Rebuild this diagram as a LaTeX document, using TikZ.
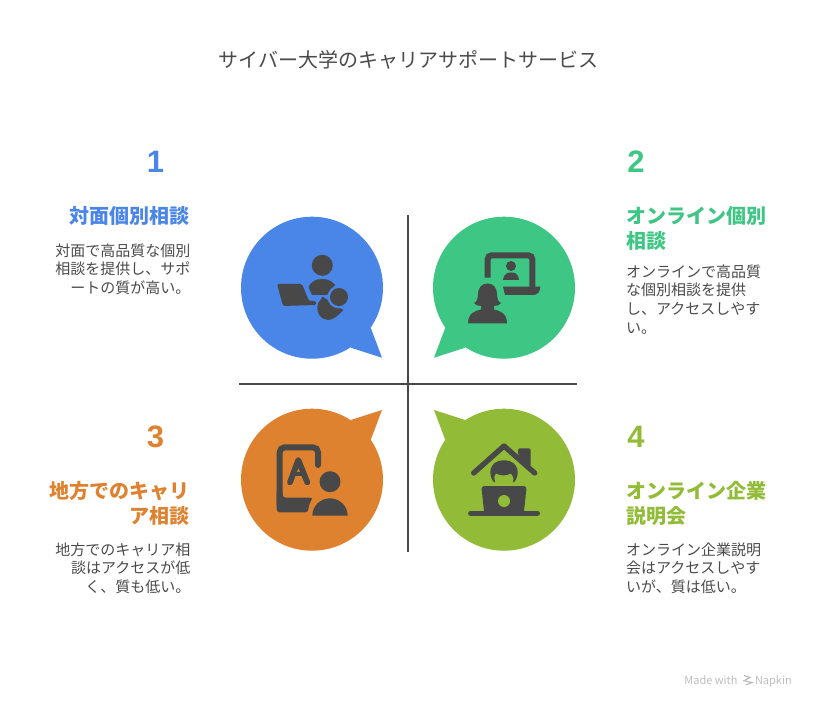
\documentclass[tikz,border=0pt]{standalone}
\usepackage{fontspec}
\setmainfont{Noto Sans CJK JP}
\newfontfamily\digitfont{Liberation Sans}
\definecolor{blueA}{HTML}{4A86E8}
\definecolor{greenA}{HTML}{3EC684}
\definecolor{orangeA}{HTML}{DF8230}
\definecolor{oliveA}{HTML}{92BC38}
\definecolor{darkA}{HTML}{484848}
\definecolor{bodyA}{HTML}{4A4A4A}
\definecolor{markA}{HTML}{BDBDBD}
\tikzset{
    bubble/.style={circle, minimum size=142pt, inner sep=0pt},
    numlabel/.style={font=\fontsize{31}{31}\selectfont\bfseries\digitfont},
    headleft/.style={font=\fontsize{20}{25}\selectfont\bfseries, align=right, anchor=north east, inner sep=0pt},
    headright/.style={font=\fontsize{20}{25}\selectfont\bfseries, align=left, anchor=north west, inner sep=0pt},
    textleft/.style={font=\fontsize{15}{18.6}\selectfont, text=bodyA, align=right, anchor=north east, inner sep=0pt},
    textright/.style={font=\fontsize{15}{18.6}\selectfont, text=bodyA, align=left, anchor=north west, inner sep=0pt},
    icon/.style={fill=darkA, draw=none}
}
\begin{document}
\begin{tikzpicture}[x=1pt,y=-1pt]
    \useasboundingbox (0,0) rectangle (816,708);
    % Title
    \node[text=bodyA, font=\fontsize{20}{24}\selectfont] (title) at (408.5,60) {サイバー大学のキャリアサポートサービス};

    % Cross lines
    \coordinate (vtop) at (408,215);
    \coordinate (vbot) at (408,552);
    \coordinate (hleft) at (239,384);
    \coordinate (hright) at (577,384);
    \draw[darkA, line width=1.8pt] (vtop) -- (vbot);
    \draw[darkA, line width=1.8pt] (hleft) -- (hright);

    % Speech bubbles
    \fill[blueA] (370.7,327.7) -- (382,357.7) -- (350.7,347.7) -- cycle;
    \fill[greenA] (445.3,327.7) -- (434,357.7) -- (465.3,347.7) -- cycle;
    \fill[orangeA] (370.7,440) -- (382,410) -- (350.7,420) -- cycle;
    \fill[oliveA] (445.3,440) -- (434,410) -- (465.3,420) -- cycle;
    \node[bubble, fill=blueA] (b1) at (312,287.7) {};
    \node[bubble, fill=greenA] (b2) at (504,287.7) {};
    \node[bubble, fill=orangeA] (b3) at (312,479.7) {};
    \node[bubble, fill=oliveA] (b4) at (504,479.7) {};

    % Icon 1: person and laptop
    \fill[icon] (322.3,265.3) circle (10.5);
    \fill[icon] (308.5,287) .. controls (311,281) and (317,279) .. (322,279) .. controls (328,279) and (332,281) .. (335,285) -- (327,295) -- (312,295) -- cycle;
    \fill[icon, rounded corners=1.5pt] (277,284) -- (302,284) -- (309,301) -- (316,301) -- (316,305) -- (283,306) -- cycle;
    \fill[icon] (322.7,296.7) -- (343.3,310) .. controls (338,316) and (333,320) .. (328,320) .. controls (321,320) and (315,312) .. (318.3,303) -- cycle;
    \fill[blueA] (339,297) circle (11.5);
    \fill[icon] (339,297) circle (9);

    % Icon 2: woman and screen
    \draw[darkA, line width=6pt, rounded corners=4pt] (487.7,277.7) -- (487.7,255.3) -- (532.3,255.3) -- (532.3,288);
    \fill[icon] (503,286.7) -- (540.3,286.7) .. controls (540.3,292) and (537,295) .. (533,295) -- (505,295) -- cycle;
    \fill[icon] (511,266) circle (5);
    \fill[icon] (503,280) .. controls (504,272) and (510,272.5) .. (511,272.5) .. controls (513,272.5) and (518,272) .. (519,280) -- cycle;
    \fill[icon] (474,303) .. controls (477,302) and (478,298) .. (478,295) .. controls (478,287) and (482,283.5) .. (487.5,283.5) .. controls (493,283.5) and (497,287) .. (497,295) .. controls (497,298) and (498,302) .. (501,303) .. controls (500,305) and (497,306) .. (494,306) -- (494,309.5) .. controls (500,311) and (507,313) .. (507,323.5) -- (468,323.5) .. controls (468,313) and (475,311) .. (481,309.5) -- (481,306) .. controls (478,306) and (475,305) .. (474,303) -- cycle;

    % Icon 3: document and person
    \draw[darkA, line width=6pt, line cap=round, rounded corners=5pt] (318,465) -- (318,447.3) -- (279.7,447.3) -- (279.7,505);
    \fill[icon, rounded corners=3pt] (276.7,490) -- (282.7,490) -- (282.7,497.7) -- (313.3,497.7) .. controls (310,502) and (308.5,507) .. (308.3,512.3) -- (276.7,512.3) -- cycle;
    \draw[darkA, line width=5.8pt, line cap=round, line join=round] (290,482.3) -- (298.3,460) -- (307.3,482.3);
    \draw[darkA, line width=4.5pt] (293,474) -- (304,474);
    \fill[icon] (330,481.7) circle (10.5);
    \fill[icon] (312.3,515.7) arc[start angle=180, end angle=360, x radius=17.7, y radius=17.4] -- cycle;

    % Icon 4: house and laptop
    \draw[darkA, line width=5.3pt, line cap=round, line join=round] (473.7,473) -- (504,446) -- (534.7,473);
    \fill[icon, rounded corners=1.5pt] (518,448.3) -- (530.7,448.3) -- (530.7,467) -- (518,455) -- cycle;
    \fill[icon] (494,482.3) .. controls (488,476) and (488,460.3) .. (504,460.3) .. controls (520,460.3) and (520,476) .. (514,482.3) -- (513,482) .. controls (514,478) and (513,475) .. (511,473.5) .. controls (506,476) and (501,476) .. (496,473.5) .. controls (494,475) and (494,479) .. (495,482) -- cycle;
    \fill[icon, rounded corners=3pt] (481.3,486) -- (526.7,486) -- (523.7,514) -- (484.3,514) -- cycle;
    \fill[oliveA] (504,501) circle (6);
    \draw[darkA, line width=5.3pt, line cap=round] (470.7,513.3) -- (537.3,513.3);

    % Labels
    \node[numlabel, text=blueA] (n1) at (155.5,162) {1};
    \node[numlabel, text=greenA] (n2) at (636,162) {2};
    \node[numlabel, text=orangeA] (n3) at (155.5,437) {3};
    \node[numlabel, text=oliveA] (n4) at (636,437) {4};

    \node[headleft, text=blueA] (h1) at (189.5,206) {対面個別相談};
    \node[headright, text=greenA] (h2) at (626,206) {オンライン個別\\相談};
    \node[headleft, text=orangeA] (h3) at (189.5,481) {地方でのキャリ\\ア相談};
    \node[headright, text=oliveA] (h4) at (626,481) {オンライン企業\\説明会};

    \node[textleft] (t1) at (190.5,243.5) {対面で高品質な個別\\相談を提供し、サポ\\ートの質が高い。};
    \node[textright] (t2) at (626,264.5) {オンラインで高品質\\な個別相談を提供\\し、アクセスしやす\\い。};
    \node[textleft] (t3) at (190.5,542.5) {地方でのキャリア相\\談はアクセスが低\\く、質も低い。};
    \node[textright] (t4) at (626,542.5) {オンライン企業説明\\会はアクセスしやす\\いが、質は低い。};

    % Watermark
    \node[text=markA, font=\fontsize{11}{13}\selectfont, anchor=east, inner sep=0pt] (mark) at (792,681.5) {Made with \hspace{15pt}Napkin};
    \draw[markA, line width=1.2pt] (744,675.5) -- (750,677.5) -- (745,680) (743,680.5) -- (752,682.5) -- (746,685);
\end{tikzpicture}
\end{document}
